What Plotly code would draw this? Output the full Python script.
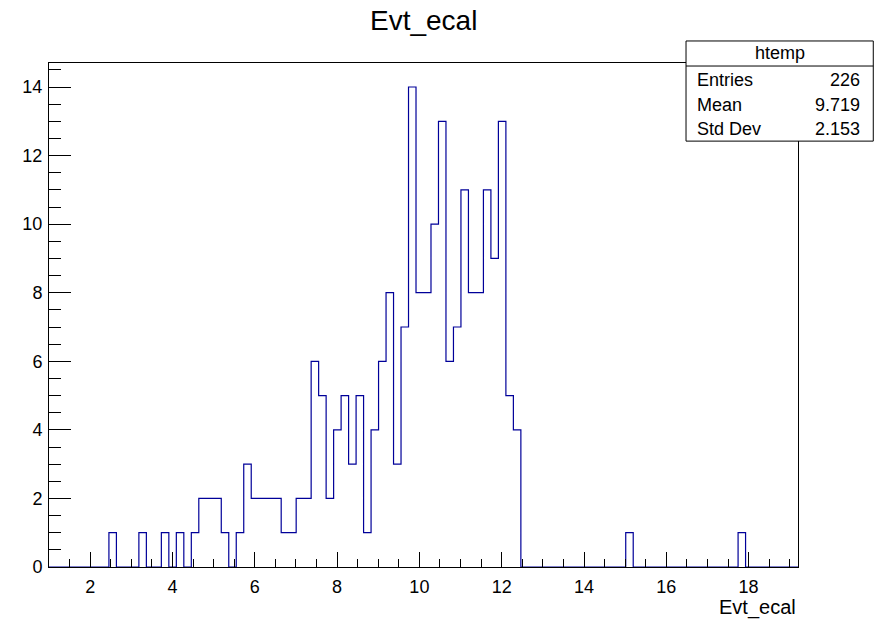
import numpy as np
import plotly.graph_objects as go

# Histogram definition: 100 equal bins over [bin_low, bin_low + nbins*bin_width]
bin_low = 1.0
bin_width = 0.182
counts = [
    0, 0, 0, 0, 0, 0, 0, 0, 1, 0,
    0, 0, 1, 0, 0, 1, 0, 1, 0, 1,
    2, 2, 2, 1, 0, 1, 3, 2, 2, 2,
    2, 1, 1, 2, 2, 6, 5, 2, 4, 5,
    3, 5, 1, 4, 6, 8, 3, 7, 14, 8,
    8, 10, 13, 6, 7, 11, 8, 8, 11, 9,
    13, 5, 4, 0, 0, 0, 0, 0, 0, 0,
    0, 0, 0, 0, 0, 0, 0, 1, 0, 0,
    0, 0, 0, 0, 0, 0, 0, 0, 0, 0,
    0, 0, 1, 0, 0, 0, 0, 0, 0, 0,
]
hist_name = "htemp"
var_name = "Evt_ecal"
stat_mean = "9.719"
stat_std = "2.153"

nbins = len(counts)
edges = bin_low + bin_width * np.arange(nbins + 1)
x_hi = edges[-1]
y_hi = max(counts) * 1.05
entries = int(sum(counts))

FONT = "Liberation Sans, Arial, Helvetica, sans-serif"
LINE = "#000099"

fig = go.Figure()
fig.add_trace(go.Scatter(
    x=edges,
    y=counts + [counts[-1]],
    mode="lines",
    line=dict(shape="hv", color=LINE, width=1.2),
    showlegend=False,
    hoverinfo="skip",
))

axis_common = dict(
    showgrid=False, zeroline=False,
    showline=True, linecolor="black", linewidth=1, mirror=True,
    ticks="inside", tickcolor="black", tickwidth=1,
    tick0=0, dtick=2,
    tickfont=dict(family=FONT, size=18, color="black"),
)

fig.update_layout(
    width=884, height=621,
    margin=dict(l=49, r=86, t=63, b=54),
    paper_bgcolor="white", plot_bgcolor="white",
    xaxis=dict(
        range=[bin_low, x_hi], ticklen=15,
        minor=dict(ticks="inside", ticklen=8, dtick=0.5, tick0=0,
                   tickcolor="black", tickwidth=1, showgrid=False),
        ticklabelstandoff=3,
        **axis_common,
    ),
    yaxis=dict(
        range=[0, y_hi], ticklen=22,
        minor=dict(ticks="inside", ticklen=12, dtick=0.5, tick0=0,
                   tickcolor="black", tickwidth=1, showgrid=False),
        ticklabelstandoff=2,
        **axis_common,
    ),
)

# Canvas title
fig.add_annotation(
    text=var_name, xref="paper", yref="paper", x=0.5, y=1.085,
    xanchor="center", yanchor="middle", showarrow=False,
    font=dict(family=FONT, size=28, color="black"),
)
# X axis title, right aligned under the frame
fig.add_annotation(
    text=var_name, xref="paper", yref="paper", x=1.0, y=-0.081,
    xanchor="right", yanchor="middle", showarrow=False,
    font=dict(family=FONT, size=20, color="black"),
)

# Statistics box
bx0, bx1 = 0.8505, 1.1005
by0, by1 = 0.845, 1.0437
by_div = 0.994
fig.add_shape(type="rect", xref="paper", yref="paper",
              x0=bx0, x1=bx1, y0=by0, y1=by1,
              line=dict(color="black", width=1), fillcolor="white", layer="above")
fig.add_shape(type="line", xref="paper", yref="paper",
              x0=bx0, x1=bx1, y0=by_div, y1=by_div,
              line=dict(color="black", width=1), layer="above")

fig.add_annotation(
    text=hist_name, xref="paper", yref="paper", x=(bx0 + bx1) / 2, y=1.019,
    xanchor="center", yanchor="middle", showarrow=False,
    font=dict(family=FONT, size=18, color="black"),
)
stat_rows = [("Entries", str(entries), 0.967), ("Mean", stat_mean, 0.917),
             ("Std Dev", stat_std, 0.869)]
for label, value, yy in stat_rows:
    fig.add_annotation(text=label, xref="paper", yref="paper", x=0.8625, y=yy,
                       xanchor="left", yanchor="middle", showarrow=False,
                       font=dict(family=FONT, size=18, color="black"))
    fig.add_annotation(text=value, xref="paper", yref="paper", x=1.085, y=yy,
                       xanchor="right", yanchor="middle", showarrow=False,
                       font=dict(family=FONT, size=18, color="black"))

fig.write_html("out.html")
